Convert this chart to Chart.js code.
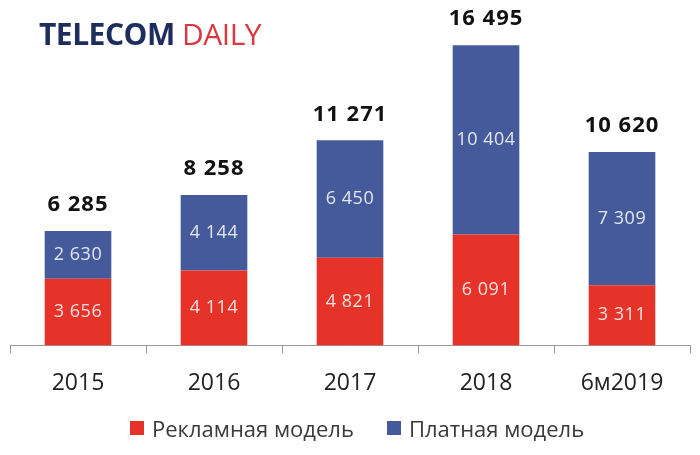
<!DOCTYPE html>
<html>
<head>
<meta charset="utf-8">
<script src="https://cdn.jsdelivr.net/npm/chart.js@4/dist/chart.umd.min.js"></script>
<style>
  html, body { margin: 0; padding: 0; background: #fff; }
  #wrap { position: relative; width: 700px; height: 455px; }
  #logo { position: absolute; left: 39px; top: 14px; font-family: "Open Sans", sans-serif; font-size: 30px; line-height: 40px; letter-spacing: -0.5px; white-space: nowrap; }
  #logo .t { color: #1d2d5c; font-weight: 700; }
  #logo .d { color: #d8383f; font-weight: 400; }
  .lg { position: absolute; top: 413px; height: 30px; font-family: "Open Sans", sans-serif; font-size: 22px; line-height: 30px; color: #3a3a3a; white-space: nowrap; }
  .lg .box { position: absolute; left: 0; top: 8px; width: 14px; height: 14px; }
  .lg .txt { position: absolute; top: 0; left: 22px; }
</style>
</head>
<body>
<div id="wrap">
  <canvas id="c" width="700" height="455"></canvas>
  <div id="logo"><span class="t">TELECOM</span> <span class="d">DAILY</span></div>
  <div id="legend"></div>
</div>
<script>
const categories = ["2015", "2016", "2017", "2018", "6м2019"];
const adModel = [3656, 4114, 4821, 6091, 3311];
const paidModel = [2630, 4144, 6450, 10404, 7309];
const totals = [6285, 8258, 11271, 16495, 10620];
const seriesNames = ["Рекламная модель", "Платная модель"];

const RED = "#e5332a";
const BLUE = "#455a9a";
const COLORS = [RED, BLUE];
const FONT = "'Open Sans', sans-serif";

function fmt(v) {
  return String(v).replace(/\B(?=(\d{3})+(?!\d))/g, " ");
}

// legend (HTML text)
const legendPos = [130, 387];
const legendEl = document.getElementById("legend");
seriesNames.forEach((name, i) => {
  const d = document.createElement("div");
  d.className = "lg";
  d.style.left = legendPos[i] + "px";
  d.innerHTML = '<span class="box" style="background:' + COLORS[i] + '"></span><span class="txt">' + name + '</span>';
  legendEl.appendChild(d);
});

const labelPlugin = {
  id: "labels",
  afterDatasetsDraw(chart) {
    const ctx = chart.ctx;
    ctx.save();
    ctx.textAlign = "center";
    ctx.textBaseline = "middle";
    chart.data.datasets.forEach((ds, di) => {
      const meta = chart.getDatasetMeta(di);
      meta.data.forEach((bar, i) => {
        const mid = (bar.y + bar.base) / 2;
        ctx.font = "400 18px " + FONT;
        ctx.letterSpacing = "0.5px";
        ctx.fillStyle = "rgba(255,255,255,0.85)";
        ctx.fillText(fmt(ds.data[i]), bar.x, mid);
      });
    });
    const topMeta = chart.getDatasetMeta(chart.data.datasets.length - 1);
    topMeta.data.forEach((bar, i) => {
      ctx.font = "700 22px " + FONT;
      ctx.letterSpacing = "1px";
      ctx.fillStyle = "#111";
      ctx.fillText(fmt(totals[i]), bar.x, bar.y - 26);
    });
    ctx.restore();
  }
};

new Chart(document.getElementById("c"), {
  type: "bar",
  data: {
    labels: categories,
    datasets: [
      { label: seriesNames[0], data: adModel, backgroundColor: RED, borderWidth: 0 },
      { label: seriesNames[1], data: paidModel, backgroundColor: BLUE, borderWidth: 0 }
    ]
  },
  options: {
    responsive: false,
    animation: false,
    events: [],
    layout: { padding: { left: 10, right: 10, top: 0, bottom: 42 } },
    datasets: { bar: { categoryPercentage: 1, barPercentage: 0.49 } },
    scales: {
      x: {
        stacked: true,
        offset: true,
        grid: { display: true, offset: true, drawOnChartArea: false, drawTicks: true, tickLength: 8, color: "#9a9a9a", lineWidth: 1 },
        border: { display: true, color: "#9a9a9a", width: 1 },
        ticks: { color: "#222", font: { family: FONT, size: 23 }, padding: 16 }
      },
      y: {
        stacked: true,
        display: false,
        min: 0,
        max: 18975
      }
    },
    plugins: {
      tooltip: { enabled: false },
      legend: { display: false }
    }
  },
  plugins: [labelPlugin]
});
</script>
</body>
</html>
